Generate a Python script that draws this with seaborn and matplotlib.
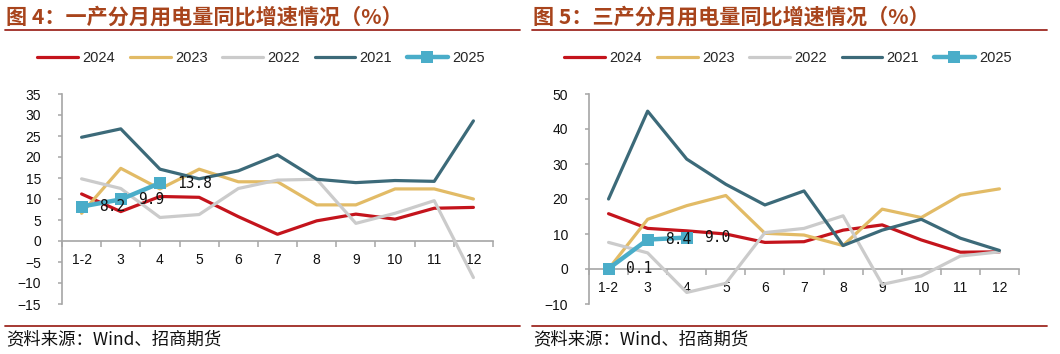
import numpy as np
import pandas as pd
import matplotlib
matplotlib.use("Agg")
import matplotlib.pyplot as plt
import seaborn as sns
from matplotlib.lines import Line2D

# ---------------- data ----------------
months = ["1-2", "3", "4", "5", "6", "7", "8", "9", "10", "11", "12"]
years = ["2024", "2023", "2022", "2021", "2025"]

p1_2024 = [11.2, 7.0, 10.6, 10.4, 5.8, 1.6, 4.8, 6.4, 5.2, 7.8, 8.0]
p1_2023 = [6.6, 17.3, 12.4, 17.1, 14.1, 14.1, 8.6, 8.6, 12.4, 12.4, 10.0]
p1_2022 = [14.8, 12.5, 5.6, 6.3, 12.5, 14.5, 14.7, 4.2, 6.6, 9.6, -8.7]
p1_2021 = [24.7, 26.7, 17.1, 14.8, 16.7, 20.5, 14.7, 13.9, 14.4, 14.2, 28.6]
p1_2025 = [8.2, 9.9, 13.8]

p3_2024 = [15.8, 11.6, 10.9, 10.0, 7.6, 7.8, 11.1, 12.6, 8.3, 4.8, 4.9]
p3_2023 = [0.0, 14.2, 18.1, 21.0, 10.2, 9.7, 6.7, 17.1, 14.7, 21.1, 22.9]
p3_2022 = [7.6, 4.6, -6.7, -4.1, 10.4, 11.6, 15.2, -4.4, -2.0, 3.7, 4.9]
p3_2021 = [20.0, 45.1, 31.4, 24.2, 18.3, 22.3, 6.7, 11.1, 14.2, 8.8, 5.3]
p3_2025 = [0.1, 8.4, 9.0]

titles = ["图 4：一产分月用电量同比增速情况（%）", "图 5：三产分月用电量同比增速情况（%）"]
source = "资料来源：Wind、招商期货"
y_ticks_1 = [35, 30, 25, 20, 15, 10, 5, 0, -5, -10, -15]
y_ticks_3 = [50, 40, 30, 20, 10, 0, -10]

# ---------------- style ----------------
sns.set_theme(style="white")
plt.rcParams["font.family"] = ["Liberation Sans", "Noto Sans CJK SC", "DejaVu Sans"]
plt.rcParams["axes.unicode_minus"] = True

colors = {"2024": "#C4141C", "2023": "#E2BB66", "2022": "#CBCBCB",
          "2021": "#3C6A79", "2025": "#4AADC9"}
title_color = "#A8441C"
rule_color = "#9E2A22"
spine_color = "#A6A6A6"

W, H = 1060, 354
fig = plt.figure(figsize=(W / 100, H / 100), dpi=100)


def fx(px):
    return px / W


def fy(py):
    return 1 - py / H


panels = [
    dict(series={"2024": p1_2024, "2023": p1_2023, "2022": p1_2022, "2021": p1_2021, "2025": p1_2025},
         ax_box=(62, 94, 493, 304), ylim=(-15, 35), yticks=y_ticks_1,
         title=titles[0], tx=6, legend_cx=261, rule=(5, 520)),
    dict(series={"2024": p3_2024, "2023": p3_2023, "2022": p3_2022, "2021": p3_2021, "2025": p3_2025},
         ax_box=(589, 94, 1019, 304), ylim=(-10, 50), yticks=y_ticks_3,
         title=titles[1], tx=533, legend_cx=788, rule=(532, 1047)),
]

for p in panels:
    x0, y0, x1, y1 = p["ax_box"]
    ax = fig.add_axes([fx(x0), fy(y1), fx(x1) - fx(x0), fy(y0) - fy(y1)])
    for yr in years:
        vals = p["series"][yr]
        df = pd.DataFrame({"month": months[:len(vals)], "value": vals})
        if yr == "2025":
            sns.lineplot(data=df, x="month", y="value", ax=ax, color=colors[yr],
                         linewidth=3.2, marker="s", markersize=8.5, markeredgewidth=0,
                         label=yr, sort=False, zorder=5)
        else:
            sns.lineplot(data=df, x="month", y="value", ax=ax, color=colors[yr],
                         linewidth=2.3, label=yr, sort=False, zorder=3)
    # data labels for 2025
    for m, v in zip(months, p["series"]["2025"]):
        ax.annotate(f"{v:.1f}", (m, v), xytext=(12.5, 0), textcoords="offset points",
                    ha="left", va="center", fontsize=10.5, color="#111111",
                    family="DejaVu Sans Mono", zorder=6)

    ax.set_xlim(-0.5, len(months) - 0.5)
    ax.set_ylim(*p["ylim"])
    ax.set_xticks(range(len(months)))
    ax.set_xticklabels(months)
    ax.set_xticks(np.arange(-0.5, len(months), 1.0), minor=True)
    ax.set_yticks(p["yticks"])
    ax.set_xlabel("")
    ax.set_ylabel("")

    for s in ["top", "right"]:
        ax.spines[s].set_visible(False)
    ax.spines["bottom"].set_position(("data", 0))
    for s in ["left", "bottom"]:
        ax.spines[s].set_color(spine_color)
        ax.spines[s].set_linewidth(1.2)
    ax.tick_params(axis="x", which="major", length=0, pad=9, labelsize=10, labelcolor="#111111")
    ax.tick_params(axis="x", which="minor", length=4, width=1.1, color=spine_color, direction="out", bottom=True)
    ax.tick_params(axis="y", which="major", length=3, width=1.1, color=spine_color, direction="out",
                   pad=12, labelsize=10, labelcolor="#111111", left=True)
    ax.grid(False)
    ax.set_facecolor("none")

    handles, labels = ax.get_legend_handles_labels()
    ax.legend(handles, labels, loc="center", bbox_to_anchor=(fx(p["legend_cx"]), fy(58)),
              bbox_transform=fig.transFigure, ncol=5, frameon=False, fontsize=10.5,
              handlelength=2.8, columnspacing=1.0, handletextpad=0.3, borderaxespad=0)

    # title, rules, source
    fig.text(fx(p["tx"]), fy(17), p["title"], ha="left", va="center", fontsize=15.2,
             fontweight="bold", color=title_color,
             family=["Noto Sans CJK SC", "DejaVu Sans"])
    r0, r1 = p["rule"]
    fig.add_artist(Line2D([fx(r0), fx(r1)], [fy(30), fy(30)], transform=fig.transFigure,
                          color=rule_color, linewidth=1.3))
    fig.add_artist(Line2D([fx(r0), fx(r1)], [fy(326), fy(326)], transform=fig.transFigure,
                          color=rule_color, linewidth=1.3))
    fig.text(fx(p["tx"]), fy(339), source, ha="left", va="center", fontsize=12.5,
             color="#111111", family=["Noto Sans CJK SC", "DejaVu Sans"])

fig.savefig("out.png", dpi=100, facecolor="white")
